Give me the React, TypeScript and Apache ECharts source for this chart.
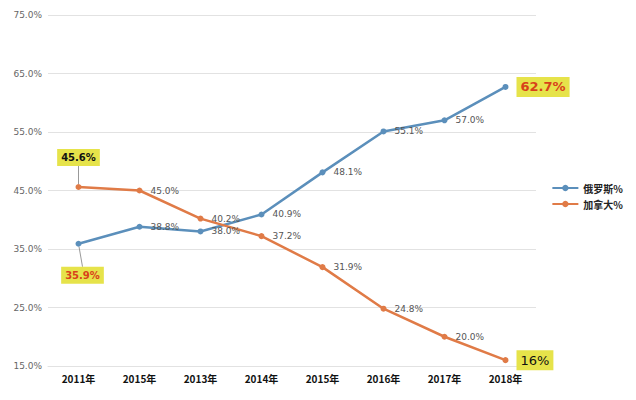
import React, { useEffect, useRef } from "react";
import * as echarts from "echarts";

const categories = ["2011年", "2015年", "2013年", "2014年", "2015年", "2016年", "2017年", "2018年"];
const russia = [35.9, 38.8, 38.0, 40.9, 48.1, 55.1, 57.0, 62.7];
const canada = [45.6, 45.0, 40.2, 37.2, 31.9, 24.8, 20.0, 16];
const seriesNames = ["俄罗斯%", "加拿大%"];

const BLUE = "#5b8fbb";
const ORANGE = "#e07b47";
const YELLOW = "#e6e34a";

export default function App() {
  const ref = useRef<HTMLDivElement>(null);
  useEffect(() => {
    const chart = echarts.init(ref.current!, null, { renderer: "svg" });
    const baseLabel = {
      show: true,
      position: "right",
      distance: 8,
      color: "#555",
      fontSize: 9,
      fontFamily: "DejaVu Sans",
      formatter: (p: any) => p.value.toFixed(1) + "%",
    };
    const hl = (text: string, color: string, size: number, bold: boolean, position: any, offset: number[]) => ({
      show: true,
      position,
      offset,
      formatter: text,
      color,
      fontSize: size,
      fontWeight: bold ? "bold" : "normal",
      fontFamily: "DejaVu Sans",
      backgroundColor: YELLOW,
      padding: [4, 4, 3, 4],
    });
    const leader = { show: true, lineStyle: { color: "#999", width: 1 } };
    const rData = russia.map((v, i) => {
      if (i === 0)
        return { value: v, label: hl(v.toFixed(1) + "%", "#d8421a", 10, true, "bottom", [0, 0]), labelLine: leader };
      if (i === russia.length - 1)
        return { value: v, label: hl(v.toFixed(1) + "%", "#d8421a", 13, true, "right", [4, 0]) };
      return v;
    });
    const cData = canada.map((v, i) => {
      if (i === 0) return { value: v, label: hl(v.toFixed(1) + "%", "#111", 10, true, "top", [0, 0]), labelLine: leader };
      if (i === canada.length - 1) return { value: v, label: hl("16%", "#111", 13, false, "right", [4, 0]) };
      return v;
    });
    chart.setOption({
      animation: false,
      backgroundColor: "#fff",
      grid: { left: 48, right: 100, top: 15, bottom: 34 },
      legend: {
        orient: "vertical",
        right: 8,
        top: 178,
        itemWidth: 26,
        itemHeight: 8,
        itemGap: 6,
        textStyle: { fontSize: 10, color: "#222", fontFamily: "Noto Sans CJK SC", fontWeight: "bold" },
        data: seriesNames,
      },
      xAxis: {
        type: "category",
        data: categories,
        boundaryGap: true,
        axisLine: { show: true, lineStyle: { color: "#e2e2e2" } },
        axisTick: { show: false },
        axisLabel: { color: "#111", fontSize: 10, fontWeight: "bold", fontFamily: "Noto Sans CJK SC", margin: 7 },
      },
      yAxis: {
        type: "value",
        min: 15,
        max: 75,
        interval: 10,
        axisLine: { show: false },
        axisTick: { show: false },
        axisLabel: { color: "#666", fontSize: 9, fontFamily: "DejaVu Sans", formatter: (v: number) => v.toFixed(1) + "%", margin: 6 },
        splitLine: { lineStyle: { color: "#e2e2e2" } },
      },
      series: [
        {
          name: seriesNames[0],
          type: "line",
          data: rData,
          symbol: "circle",
          symbolSize: 6,
          color: BLUE,
          lineStyle: { width: 2.5, color: BLUE },
          label: baseLabel,
          labelLine: { show: false },
          labelLayout: (p: any) => (p.dataIndex === 0 ? { dx: 4, dy: 12 } : {}),
        },
        {
          name: seriesNames[1],
          type: "line",
          data: cData,
          symbol: "circle",
          symbolSize: 6,
          color: ORANGE,
          lineStyle: { width: 2.5, color: ORANGE },
          label: baseLabel,
          labelLine: { show: false },
          labelLayout: (p: any) => (p.dataIndex === 0 ? { dy: -10 } : {}),
        },
      ],
    });
    return () => chart.dispose();
  }, []);
  return <div ref={ref} style={{ width: 636, height: 400, position: "absolute", left: 0, top: 0 }} />;
}
